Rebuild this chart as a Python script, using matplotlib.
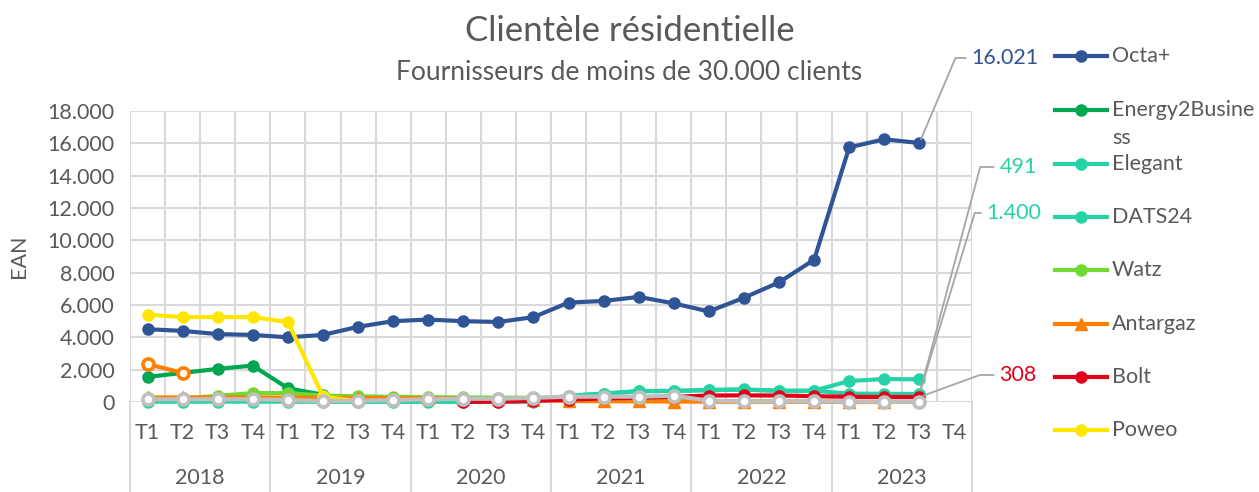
import matplotlib
matplotlib.use("Agg")
import matplotlib.pyplot as plt
from matplotlib.lines import Line2D

plt.rcParams['font.family'] = ['Lato', 'DejaVu Sans']

quarters = ["T1", "T2", "T3", "T4"] * 6
years = ["2018", "2019", "2020", "2021", "2022", "2023"]

N = None
octa = [4500, 4400, 4200, 4150, 4000, 4150, 4650, 5000, 5100, 5000, 4950, 5250,
        6150, 6250, 6500, 6100, 5600, 6450, 7400, 8800, 15750, 16250, 16021, N]
e2b = [1550, 1800, 2050, 2250, 850, 450] + [N] * 18
elegant = [N] * 12 + [380, 500, 660, 680, 730, 760, 690, 690, 520, 510, 491, N]
dats24 = [20, 20, 20, 20, 20, 10, 10, 10, 10, 10, 10, 30,
          400, 520, 680, 690, 750, 780, 700, 700, 1300, 1420, 1400, N]
watz = [220, 230, 380, 550, 550, 400, 350, 320, 300, 280, 270, 260,
        230, 200, 160, 120, 60, 40, 30, 20, 10, 10, 10, N]
antargaz = [280, 280, 280, 280, 270, 260, 250, 240, 230, 200, 160, 120,
            60, 50, 40, 30, 20, 20, 20, 20, 0, 0, N, N]
bolt = [N] * 9 + [10, 20, 60, 150, 220, 260, 320, 400, 410, 400, 360, 320, 310, 308, N]
poweo = [5400, 5250, 5250, 5250, 4950, 350, 30] + [N] * 17
other_orange = [2350, 1800] + [N] * 22
other_grey = [165, 165, 170, 170, 120, 60, 80, 120, 165, 200, 200, 260,
              330, 330, 330, 390, 80, 40, 40, 40, 20, 20, 20, N]

names = ["Octa+", "Energy2Busine\nss", "Elegant", "DATS24", "Watz", "Antargaz", "Bolt", "Poweo"]
series = [octa, e2b, elegant, dats24, watz, antargaz, bolt, poweo]
colors = ["#2F5597", "#00A650", "#26D3A6", "#26D3A6", "#72D934", "#FF7F00", "#E3001B", "#FFE600"]
markers = ["o", "o", "o", "o", "o", "^", "o", "o"]

txt = "#595959"
grid = "#D9D9D9"

fig = plt.figure(figsize=(12.59, 4.92), dpi=100)
ax = fig.add_axes([130 / 1259, 90 / 492, 842 / 1259, 291 / 492])

x = list(range(len(quarters)))
for vals, c, m in zip(series, colors, markers):
    y = [float('nan') if v is None else v for v in vals]
    ax.plot(x, y, color=c, lw=3, marker=m, ms=8, zorder=3, clip_on=False)
for vals, c in [(other_orange, "#FF7F00"), (other_grey, "#BFBFBF")]:
    y = [float('nan') if v is None else v for v in vals]
    ax.plot(x, y, color=c, lw=3, marker="o", ms=8, mfc="white", mec=c, mew=2.6,
            zorder=3, clip_on=False)

ax.set_xlim(-0.5, 23.5)
ax.set_ylim(0, 18000)
ax.set_yticks(range(0, 18001, 2000))
ax.set_yticklabels(["0"] + ["{:,}".format(v).replace(",", ".") for v in range(2000, 18001, 2000)])
ax.set_xticks([i + 0.5 for i in range(-1, 24)], minor=False)
ax.set_xticklabels([])
ax.grid(True, color=grid, lw=1.5)
ax.set_axisbelow(True)
for s in ax.spines.values():
    s.set_visible(False)
ax.tick_params(axis='both', length=0, colors=txt, labelsize=15.5, pad=11)
ax.set_ylabel("EAN", color=txt, fontsize=15.5, labelpad=13)

# category labels (two levels)
for i, q in enumerate(quarters):
    ax.text(i, -0.105, q, transform=ax.get_xaxis_transform(), ha='center', va='center',
            color=txt, fontsize=15.5)
for k, yr in enumerate(years):
    ax.text(4 * k + 1.5, -0.26, yr, transform=ax.get_xaxis_transform(), ha='center',
            va='center', color=txt, fontsize=15.5)
for k in range(7):
    ax.plot([4 * k - 0.5] * 2, [0, -0.31], transform=ax.get_xaxis_transform(),
            color=grid, lw=1.5, clip_on=False)

# data labels with leader lines
lead = dict(arrowstyle='-', color='#A6A6A6', lw=1.3, shrinkA=2, shrinkB=3)
ax.annotate("16.021", xy=(22, octa[22]), xytext=(1005, 434), textcoords='figure pixels',
            ha='center', va='center', color=colors[0], fontsize=15.5,
            arrowprops=dict(lead, connectionstyle="angle,angleA=0,angleB=67,rad=0"))
ax.annotate("491", xy=(22, elegant[22]), xytext=(1018, 325), textcoords='figure pixels',
            ha='center', va='center', color=colors[2], fontsize=15.5,
            arrowprops=dict(lead, connectionstyle="angle,angleA=0,angleB=75,rad=0"))
ax.annotate("1.400", xy=(22, elegant[22]), xytext=(1014, 279), textcoords='figure pixels',
            ha='center', va='center', color=colors[3], fontsize=15.5,
            arrowprops=dict(lead, connectionstyle="angle,angleA=0,angleB=73,rad=0"))
ax.annotate("308", xy=(22, bolt[22]), xytext=(1018, 117), textcoords='figure pixels',
            ha='center', va='center', color=colors[6], fontsize=15.5,
            arrowprops=dict(lead, connectionstyle="angle,angleA=0,angleB=20,rad=0"))

# legend drawn by hand to copy the layout
leg_y = [56, 110, 164, 217, 270, 324, 377, 430]
for yy, name, c, m in zip(leg_y, names, colors, markers):
    fy = (492 - yy) / 492
    fig.add_artist(Line2D([1055 / 1259, 1107 / 1259], [fy, fy], color=c, lw=3))
    fig.add_artist(Line2D([1081 / 1259], [fy], color=c, marker=m, ms=8))
    for j, part in enumerate(name.split("\n")):
        fig.text(1112 / 1259, fy - j * 28 / 492, part, color=txt, fontsize=15.5, va='center')

fig.text(630 / 1259, (492 - 31) / 492, "Clientèle résidentielle", ha='center', va='center',
         color=txt, fontsize=25)
fig.text(629 / 1259, (492 - 72) / 492, "Fournisseurs de moins de 30.000 clients", ha='center',
         va='center', color=txt, fontsize=19)

fig.savefig("out.png", dpi=100)
